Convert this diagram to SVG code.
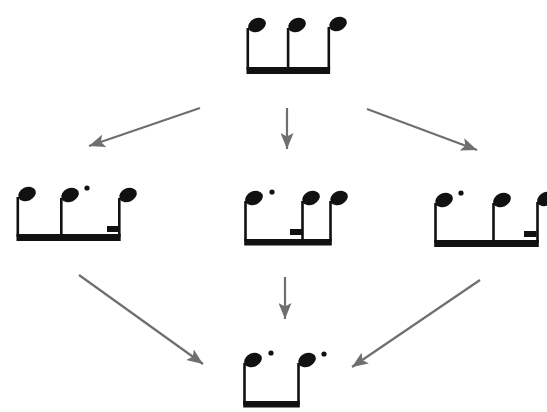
<svg xmlns="http://www.w3.org/2000/svg" width="547" height="412" viewBox="0 0 547 412">
<style>
.n{fill:#111}
.c{stroke:#6f6f6f;stroke-width:2.2;fill:none;marker-end:url(#ar)}
</style>
<defs>
<ellipse id="h" cx="0" cy="0" rx="9.2" ry="6.8" transform="rotate(-25)"/>
<marker id="ar" markerUnits="userSpaceOnUse" markerWidth="17" markerHeight="13" refX="16" refY="6.5" orient="auto" viewBox="0 0 17 13">
<path d="M0,0 L16,6.5 L0,13 L3.5,6.5 z" fill="#6f6f6f"/>
</marker>
</defs>
<rect width="547" height="412" fill="#fff"/>
<g id="connectors">
<line class="c" x1="200" y1="108" x2="89" y2="146"/>
<line class="c" x1="287" y1="108" x2="287" y2="149"/>
<line class="c" x1="367" y1="109" x2="477" y2="150"/>
<line class="c" x1="79" y1="275" x2="203" y2="364"/>
<line class="c" x1="285" y1="277" x2="285" y2="319"/>
<line class="c" x1="480" y1="280" x2="352" y2="367"/>
</g>
<g id="top" class="n">
<use href="#h" x="257" y="25"/>
<use href="#h" x="297" y="25"/>
<use href="#h" x="338" y="24"/>
<rect x="246.5" y="28" width="2.6" height="42"/>
<rect x="286.8" y="28" width="2.6" height="42"/>
<rect x="327.5" y="27" width="2.6" height="43"/>
<rect x="246.5" y="67" width="83.6" height="7"/>
</g>
<g id="left" class="n">
<use href="#h" x="27" y="194"/>
<use href="#h" x="70" y="195"/>
<use href="#h" x="128" y="195"/>
<rect x="16.5" y="197" width="2.6" height="40"/>
<rect x="60" y="198" width="2.6" height="39"/>
<rect x="118" y="198" width="2.6" height="39"/>
<rect x="16.5" y="234" width="104.2" height="7"/>
<rect x="107" y="226" width="13" height="6"/>
<circle cx="87" cy="188" r="2.6"/>
</g>
<g id="middle" class="n">
<use href="#h" x="254" y="198"/>
<use href="#h" x="311" y="198"/>
<use href="#h" x="339" y="198"/>
<rect x="244.2" y="201" width="2.6" height="40"/>
<rect x="301.2" y="201" width="2.6" height="40"/>
<rect x="329.2" y="201" width="2.6" height="40"/>
<rect x="244.2" y="239" width="87.6" height="6.5"/>
<rect x="290" y="229" width="12" height="6"/>
<circle cx="272" cy="192" r="2.6"/>
</g>
<g id="right" class="n">
<use href="#h" x="444" y="200"/>
<use href="#h" x="502" y="200"/>
<use href="#h" x="546" y="199"/>
<rect x="434.2" y="203" width="2.6" height="40"/>
<rect x="492.2" y="203" width="2.6" height="40"/>
<rect x="536.2" y="202" width="2.6" height="41"/>
<rect x="434.2" y="240" width="104.6" height="7"/>
<rect x="524" y="231" width="12.5" height="6"/>
<circle cx="461" cy="193" r="2.6"/>
</g>
<g id="bottom" class="n">
<use href="#h" x="253" y="360"/>
<use href="#h" x="307" y="360"/>
<rect x="243.2" y="363" width="2.6" height="42"/>
<rect x="297.2" y="363" width="2.6" height="42"/>
<rect x="243.2" y="401" width="56.6" height="6.5"/>
<circle cx="271" cy="353" r="2.6"/>
<circle cx="324" cy="354" r="2.6"/>
</g>
</svg>
